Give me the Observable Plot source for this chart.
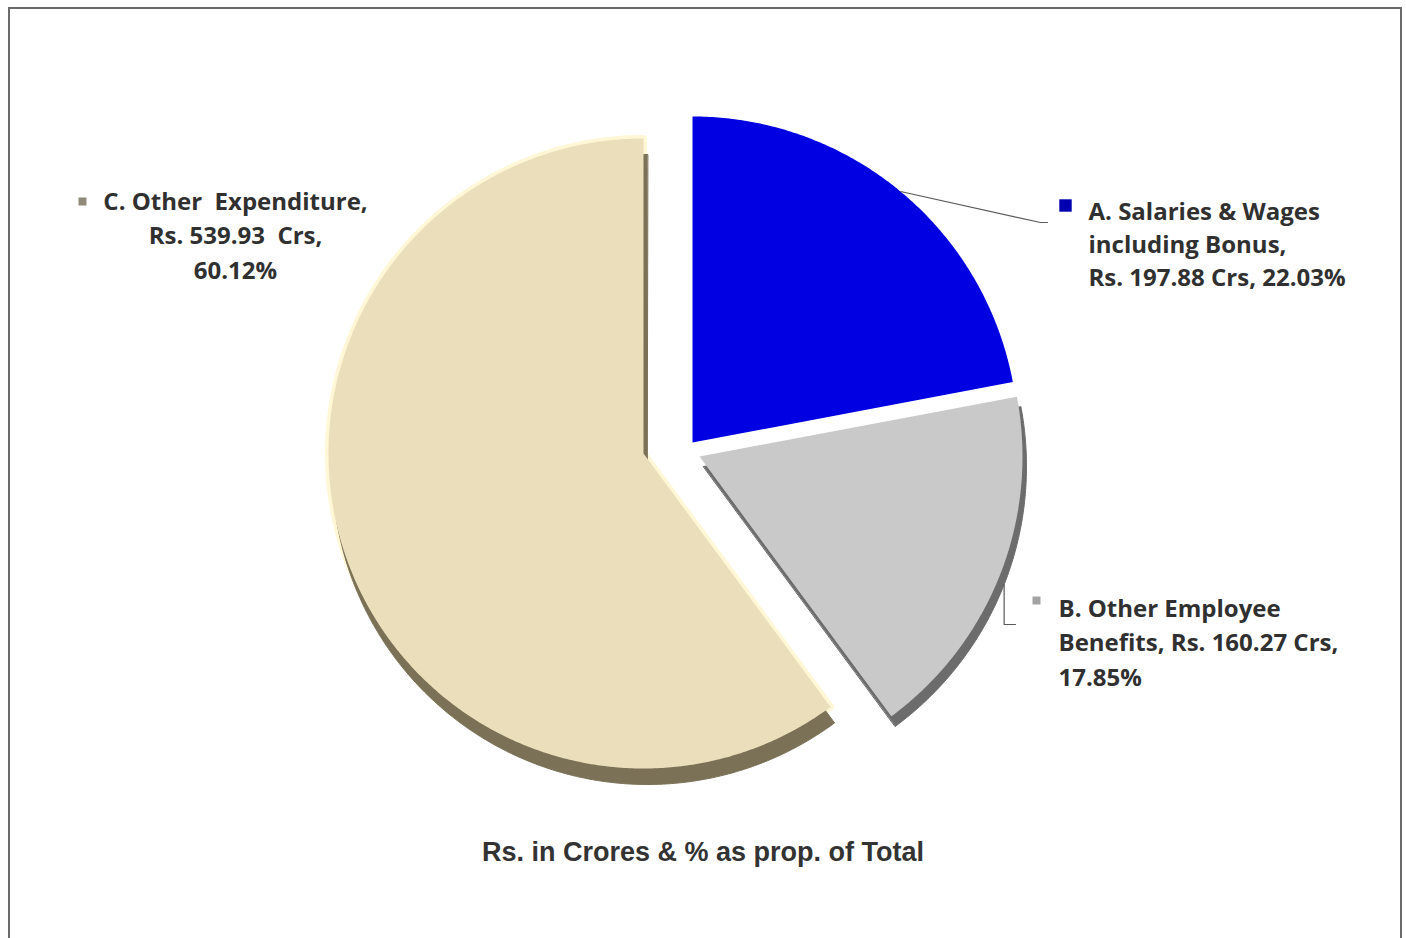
<!DOCTYPE html>
<html><head><meta charset="utf-8">
<script src="https://cdn.jsdelivr.net/npm/d3@7"></script>
<script src="https://cdn.jsdelivr.net/npm/@observablehq/plot@0.6"></script>
<style>
body{margin:0;background:#fff;}
#frame{position:absolute;left:8px;top:7px;width:1394px;height:960px;border:2px solid #6b6b6b;border-bottom:none;box-sizing:border-box;}
#chart{position:absolute;left:0;top:0;}
#chart text{white-space:pre;}
#caption{position:absolute;left:0;top:837px;width:1406px;text-align:center;font:bold 27px "Liberation Sans",Arial,sans-serif;line-height:31px;color:#333;}
</style></head><body>
<div id="frame"></div>
<div id="chart"></div>
<div id="caption">Rs. in Crores &amp; % as prop. of Total</div>
<script>
// ---- data ----
const keys = ["A", "B", "C"];
const categories = ["Salaries & Wages including Bonus", "Other Employee Benefits", "Other  Expenditure"];
const crores = [197.88, 160.27, 539.93];
const percents = [22.03, 17.85, 60.12];
const labelLines = [
  ["A. Salaries & Wages", "including Bonus,", `Rs. ${crores[0].toFixed(2)} Crs, ${percents[0].toFixed(2)}%`],
  ["B. Other Employee", `Benefits, Rs. ${crores[1].toFixed(2)} Crs,`, `${percents[1].toFixed(2)}%`],
  ["C. Other  Expenditure,", `Rs. ${crores[2].toFixed(2)}  Crs,`, `${percents[2].toFixed(2)}%`]
];

// ---- layout / style ----
const W = 1406, H = 830;
const center = [685, 450];
const radius = [326, 323, 315];
const explodeOffset = [[7, -8], [14, 6], [-42, 3]];
const depth = [[0, 0], [4, 10], [4, 16]];
const faceColors = ["#0000e2", "#c9c9c9", "#ebdfbb"];
const sideColors = ["#00008a", "#6c6c6c", "#7b7157"];
const markerColors = ["#0000b0", "#a2a2a2", "#8f8b78"];
const markerR = [7, 4.5, 4.5];
const labelPos = [
  {x: 1088, y: 219, dy: 33, anchor: "start", mx: 1065, my: 205},
  {x: 1058, y: 616, dy: 34.5, anchor: "start", mx: 1036, my: 600},
  {x: 235, y: 209, dy: 34.5, anchor: "middle", mx: 82, my: 201}
];

// ---- geometry from values ----
const arcs = d3.pie().sort(null).value(d => d)(crores);
const slices = arcs.map((a, i) => {
  const mid = (a.startAngle + a.endAngle) / 2;
  const ax = center[0] + explodeOffset[i][0];
  const ay = center[1] + explodeOffset[i][1];
  const R = radius[i];
  const n = Math.max(4, Math.ceil((a.endAngle - a.startAngle) / (Math.PI / 360)));
  const pts = [{x: ax, y: ay}];
  for (let k = 0; k <= n; k++) {
    const t = a.startAngle + (a.endAngle - a.startAngle) * k / n;
    pts.push({x: ax + R * Math.sin(t), y: ay - R * Math.cos(t)});
  }
  return {i, key: keys[i], mid, ax, ay, R, pts};
});

const facePts = slices.flatMap(s => s.pts.map(p => ({...p, key: s.key, color: faceColors[s.i]})));
const sidePts = slices.filter(s => depth[s.i][1] > 0).flatMap(s => s.pts.map(p => ({x: p.x + depth[s.i][0], y: p.y + depth[s.i][1], key: s.key, color: sideColors[s.i]})));
const glowPts = slices.filter(s => s.i === 2).flatMap(s => s.pts.map(p => ({...p, key: s.key})));

// leader lines start at each slice's mid-angle on the arc
const sA = slices[0], sB = slices[1];
const startA = {x: sA.ax + sA.R * Math.sin(sA.mid), y: sA.ay - sA.R * Math.cos(sA.mid)};
const startB = {x: sB.ax + sB.R * Math.sin(sB.mid) + depth[1][0], y: sB.ay - sB.R * Math.cos(sB.mid) + depth[1][1]};
const leaders = [
  {key: "A", x: startA.x, y: startA.y},
  {key: "A", x: 1040, y: 222},
  {key: "A", x: 1047, y: 222},
  {key: "B", x: startB.x, y: startB.y},
  {key: "B", x: startB.x, y: 624},
  {key: "B", x: 1015, y: 624}
];

const textRows = labelLines.flatMap((lines, i) => lines.map((t, j) => ({
  text: t, x: labelPos[i].x, y: labelPos[i].y + j * labelPos[i].dy, anchor: labelPos[i].anchor
})));
const markers = keys.map((k, i) => ({x: labelPos[i].mx, y: labelPos[i].my, color: markerColors[i], r: markerR[i], label: categories[i]}));

const font = "'Open Sans', Lato, sans-serif";
const textOpts = {x: "x", y: "y", text: "text", lineAnchor: "bottom", fontSize: 24, fontWeight: "bold", fontFamily: font, fill: "#303030"};
const plot = Plot.plot({
  width: W, height: H, margin: 0,
  style: {background: "transparent", overflow: "visible"},
  x: {domain: [0, W], range: [0, W], axis: null},
  y: {domain: [0, H], range: [0, H], axis: null},
  r: {type: "identity"},
  color: {type: "identity"},
  marks: [
    Plot.line(glowPts, {x: "x", y: "y", z: "key", fill: "none", stroke: "#fff6d2", strokeWidth: 7, strokeOpacity: 0.9, curve: "linear-closed"}),
    Plot.line(sidePts, {x: "x", y: "y", z: "key", fill: "color", stroke: "color", strokeWidth: 1, curve: "linear-closed"}),
    Plot.line(facePts, {x: "x", y: "y", z: "key", fill: "color", stroke: "none", curve: "linear-closed"}),
    Plot.line(leaders, {x: "x", y: "y", z: "key", stroke: "#5a5a5a", strokeWidth: 1.2}),
    Plot.dot(markers, {x: "x", y: "y", r: "r", symbol: "square", fill: "color", stroke: "none"}),
    Plot.text(textRows.filter(d => d.anchor === "start"), {...textOpts, textAnchor: "start"}),
    Plot.text(textRows.filter(d => d.anchor === "middle"), {...textOpts, textAnchor: "middle"})
  ]
});
document.getElementById("chart").appendChild(plot);
</script>
</body></html>
